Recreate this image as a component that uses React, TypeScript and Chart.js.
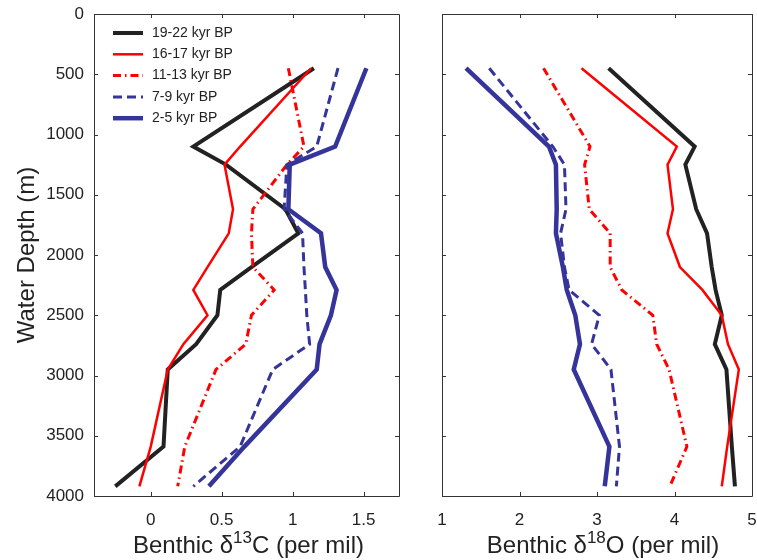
import React, { useEffect, useRef } from "react";
import { Chart, registerables } from "chart.js";
Chart.register(...registerables);

// ---------- data ----------
const DEPTHS = [450, 1100, 1250, 1620, 1820, 2100, 2290, 2500, 2740, 2950, 3590, 3920];
const SERIES_LABELS = ["19-22 kyr BP", "16-17 kyr BP", "11-13 kyr BP", "7-9 kyr BP", "2-5 kyr BP"];

const C13_19_22 = [1.15, 0.30, 0.53, 0.95, 1.04, 0.71, 0.49, 0.47, 0.32, 0.12, 0.09, -0.25];
const C13_16_17 = [1.13, 0.63, 0.52, 0.58, 0.55, 0.40, 0.30, 0.40, 0.23, 0.12, 0.00, -0.08];
const C13_11_13 = [0.97, 1.08, 0.96, 0.72, 0.71, 0.72, 0.87, 0.71, 0.67, 0.46, 0.24, 0.19];
const C13_7_9 = [1.32, 1.17, 0.96, 0.94, 1.07, 1.08, 1.09, 1.10, 1.12, 0.86, 0.63, 0.30];
const C13_2_5 = [1.52, 1.30, 0.98, 0.97, 1.20, 1.23, 1.31, 1.27, 1.19, 1.17, 0.66, 0.41];

const O18_19_22 = [3.15, 4.26, 4.14, 4.28, 4.42, 4.48, 4.53, 4.61, 4.52, 4.67, 4.74, 4.78];
const O18_16_17 = [2.80, 4.03, 3.91, 3.98, 3.91, 4.07, 4.36, 4.61, 4.69, 4.83, 4.68, 4.61];
const O18_11_13 = [2.31, 2.91, 2.84, 2.90, 3.17, 3.17, 3.32, 3.72, 3.77, 3.93, 4.16, 3.94];
const O18_7_9 = [1.61, 2.43, 2.58, 2.60, 2.53, 2.58, 2.64, 3.03, 2.93, 3.18, 3.29, 3.25];
const O18_2_5 = [1.31, 2.38, 2.47, 2.48, 2.47, 2.56, 2.61, 2.72, 2.78, 2.70, 3.16, 3.10];

const DEPTH_TICKS = [0, 500, 1000, 1500, 2000, 2500, 3000, 3500, 4000];
const C13_TICKS = [0, 0.5, 1, 1.5];
const O18_TICKS = [1, 2, 3, 4, 5];
const Y_TITLE = "Water Depth (m)";
const C13_TITLE = ["Benthic δ", "13", "C (per mil)"];
const O18_TITLE = ["Benthic δ", "18", "O (per mil)"];

// ---------- styles ----------
const FONT = "'Liberation Sans', Arial, Helvetica, sans-serif";
const TEXT_COLOR = "#222222";
const STYLES = [
  { color: "#222222", width: 4, dash: [] as number[] },
  { color: "#ff0000", width: 2.5, dash: [] as number[] },
  { color: "#ff0000", width: 3, dash: [8, 4, 1.5, 4] },
  { color: "#35349a", width: 3, dash: [9, 5] },
  { color: "#35349a", width: 4.5, dash: [] as number[] },
];

const framePlugin = {
  id: "frame",
  afterDraw(chart: any) {
    const { ctx, chartArea } = chart;
    const { left, right, top, bottom } = chartArea;
    const tl = 4;
    ctx.save();
    ctx.strokeStyle = "#333333";
    ctx.lineWidth = 1;
    ctx.beginPath();
    ctx.rect(Math.round(left) + 0.5, Math.round(top) + 0.5, Math.round(right - left), Math.round(bottom - top));
    const xs = chart.scales.x;
    xs.ticks.forEach((t: any) => {
      const px = Math.round(xs.getPixelForValue(t.value)) + 0.5;
      ctx.moveTo(px, top);
      ctx.lineTo(px, top + tl);
      ctx.moveTo(px, bottom);
      ctx.lineTo(px, bottom - tl);
    });
    const ys = chart.scales.y;
    ys.ticks.forEach((t: any) => {
      const py = Math.round(ys.getPixelForValue(t.value)) + 0.5;
      ctx.moveTo(left, py);
      ctx.lineTo(left + tl, py);
      ctx.moveTo(right, py);
      ctx.lineTo(right - tl, py);
    });
    ctx.stroke();
    ctx.restore();
  },
};

const xTitlePlugin = {
  id: "xTitle",
  afterDraw(chart: any, _args: any, opts: any) {
    const parts: string[] = opts.parts;
    if (!parts) return;
    const { ctx, chartArea } = chart;
    const big = `24px ${FONT}`;
    const small = `17px ${FONT}`;
    ctx.save();
    ctx.fillStyle = TEXT_COLOR;
    ctx.textBaseline = "alphabetic";
    ctx.textAlign = "left";
    ctx.font = big;
    const w0 = ctx.measureText(parts[0]).width;
    const w2 = ctx.measureText(parts[2]).width;
    ctx.font = small;
    const w1 = ctx.measureText(parts[1]).width;
    const total = w0 + w1 + w2;
    const cx = (chartArea.left + chartArea.right) / 2 + opts.shift;
    let x = cx - total / 2;
    const y = opts.baseline;
    ctx.font = big;
    ctx.fillText(parts[0], x, y);
    x += w0;
    ctx.font = small;
    ctx.fillText(parts[1], x, y - 10);
    x += w1;
    ctx.font = big;
    ctx.fillText(parts[2], x, y);
    ctx.restore();
  },
};

const legendPlugin = {
  id: "innerLegend",
  afterDraw(chart: any, _args: any, opts: any) {
    if (!opts.show) return;
    const { ctx, chartArea } = chart;
    ctx.save();
    chart.data.datasets.forEach((ds: any, i: number) => {
      const y = chartArea.top + 19 + i * 21.3;
      ctx.beginPath();
      ctx.strokeStyle = ds.borderColor;
      ctx.lineWidth = ds.borderWidth;
      ctx.setLineDash(ds.borderDash || []);
      ctx.moveTo(chartArea.left + 19, y);
      ctx.lineTo(chartArea.left + 49, y);
      ctx.stroke();
      ctx.setLineDash([]);
      ctx.fillStyle = TEXT_COLOR;
      ctx.font = `14px ${FONT}`;
      ctx.textBaseline = "middle";
      ctx.textAlign = "left";
      ctx.fillText(ds.label, chartArea.left + 58, y);
    });
    ctx.restore();
  },
};

function buildConfig(series: number[][], xMin: number, xMax: number, xTicks: number[], titleParts: string[], isLeft: boolean, padRight: number) {
  return {
    type: "scatter" as const,
    data: {
      datasets: series.map((vals, i) => ({
        label: SERIES_LABELS[i],
        data: vals.map((v, j) => ({ x: v, y: DEPTHS[j] })),
        showLine: true,
        pointRadius: 0,
        pointHoverRadius: 0,
        borderColor: STYLES[i].color,
        backgroundColor: STYLES[i].color,
        borderWidth: STYLES[i].width,
        borderDash: STYLES[i].dash,
        borderJoinStyle: "miter",
        tension: 0,
        fill: false,
        order: series.length - 1 - i,
      })),
    },
    options: {
      responsive: false,
      animation: false,
      events: [],
      layout: { padding: { top: 14, right: padRight, left: 0, bottom: 0 } },
      plugins: {
        legend: { display: false },
        tooltip: { enabled: false },
        xTitle: { parts: titleParts, baseline: 553, shift: isLeft ? 2 : 6 },
        innerLegend: { show: isLeft },
      },
      scales: {
        x: {
          type: "linear",
          min: xMin,
          max: xMax,
          afterBuildTicks: (s: any) => {
            s.ticks = xTicks.map((v) => ({ value: v }));
          },
          afterFit: (s: any) => {
            s.height = 64;
            s.paddingLeft = 0;
            s.paddingRight = 0;
          },
          grid: { display: false, drawTicks: false },
          border: { display: false },
          ticks: {
            padding: 14,
            color: TEXT_COLOR,
            font: { family: FONT, size: 17 },
            maxRotation: 0,
            autoSkip: false,
            callback: (v: any) => String(v),
          },
        },
        y: {
          type: "linear",
          reverse: true,
          min: 0,
          max: 4000,
          afterBuildTicks: (s: any) => {
            s.ticks = DEPTH_TICKS.map((v) => ({ value: v }));
          },
          afterFit: (s: any) => {
            s.width = isLeft ? 94 : 32;
            s.paddingTop = 0;
            s.paddingBottom = 0;
          },
          grid: { display: false, drawTicks: false },
          border: { display: false },
          ticks: {
            display: isLeft,
            padding: 10,
            color: TEXT_COLOR,
            font: { family: FONT, size: 17 },
            autoSkip: false,
            callback: (v: any) => String(v),
          },
          title: {
            display: isLeft,
            text: Y_TITLE,
            color: TEXT_COLOR,
            font: { family: FONT, size: 24 },
            padding: { top: 13, bottom: 0 },
          },
        },
      },
    },
    plugins: [framePlugin, xTitlePlugin, legendPlugin],
  };
}

export default function App() {
  const leftRef = useRef<HTMLCanvasElement>(null);
  const rightRef = useRef<HTMLCanvasElement>(null);

  useEffect(() => {
    const left = new Chart(
      leftRef.current as HTMLCanvasElement,
      buildConfig([C13_19_22, C13_16_17, C13_11_13, C13_7_9, C13_2_5], -0.4, 1.75, C13_TICKS, C13_TITLE, true, 11) as any
    );
    const right = new Chart(
      rightRef.current as HTMLCanvasElement,
      buildConfig([O18_19_22, O18_16_17, O18_11_13, O18_7_9, O18_2_5], 1, 5, O18_TICKS, O18_TITLE, false, 5) as any
    );
    return () => {
      left.destroy();
      right.destroy();
    };
  }, []);

  return (
    <div style={{ position: "fixed", left: 0, top: 0, width: 757, height: 560, background: "#ffffff" }}>
      <canvas ref={leftRef} width={410} height={560} style={{ position: "absolute", left: 0, top: 0, width: 410, height: 560 }} />
      <canvas ref={rightRef} width={347} height={560} style={{ position: "absolute", left: 410, top: 0, width: 347, height: 560 }} />
    </div>
  );
}
